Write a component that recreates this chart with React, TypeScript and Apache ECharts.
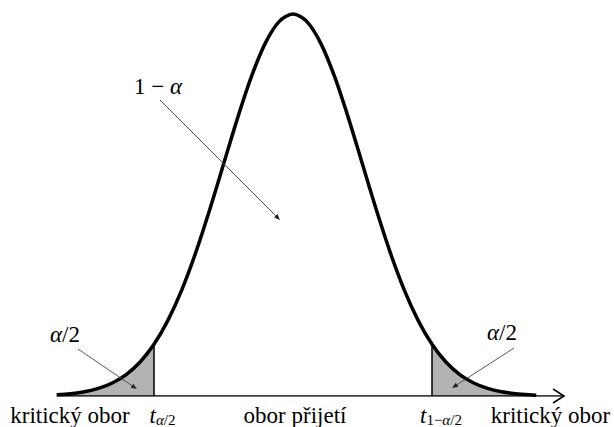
import React, { useEffect, useRef } from "react";
import * as echarts from "echarts";

// Density curve (x in units of the curve's spread, y = height)
const curveX = [
  -3.4, -3.2, -3.0, -2.8, -2.6, -2.4, -2.2, -2.0, -1.8, -1.6, -1.4, -1.2, -1.0, -0.8, -0.6, -0.4, -0.2,
  0.0, 0.2, 0.4, 0.6, 0.8, 1.0, 1.2, 1.4, 1.6, 1.8, 2.0, 2.2, 2.4, 2.6, 2.8, 3.0, 3.2, 3.4, 3.5,
];
const curveY = [
  0.0012, 0.0024, 0.0044, 0.0079, 0.0136, 0.0224, 0.0355, 0.054, 0.079, 0.1109, 0.1497, 0.1942, 0.242,
  0.2897, 0.3332, 0.3683, 0.391, 0.3989, 0.391, 0.3683, 0.3332, 0.2897, 0.242, 0.1942, 0.1497, 0.1109,
  0.079, 0.054, 0.0355, 0.0224, 0.0136, 0.0079, 0.0044, 0.0024, 0.0012, 0.0009,
];
// critical values
const tLow = -2.0;
const tHigh = 2.0;
// axis line extent
const axisStart = -3.4;
const axisEnd = 3.9;

// annotation arrows [x1, y1, x2, y2]
const arrows = [
  [-1.914, 0.3091, -0.187, 0.1838],
  [-3.094, 0.0491, -2.245, 0.0073],
  [3.18, 0.0501, 2.288, 0.0084],
];
// annotation labels: pieces [text, kind]; kind n = roman, i = italic, s = subscript, si = italic subscript
const labelParts: [string, string][][] = [
  [["1 − ", "n"], ["α", "i"]],
  [["α", "i"], ["/2", "n"]],
  [["α", "i"], ["/2", "n"]],
  [["kritický obor", "n"]],
  [["t", "i"], ["α", "si"], ["/2", "s"]],
  [["obor přijetí", "n"]],
  [["t", "i"], ["1−", "s"], ["α", "si"], ["/2", "s"]],
  [["kritický obor", "n"]],
];
const labelX = [-1.942, -3.281, 3.007, -3.209, -1.878, 0.029, 2.129, 3.705];
const labelY = [0.3231, 0.0641, 0.0662, -0.0201, -0.0201, -0.0201, -0.0201, -0.0201];

const FAMILY = "Liberation Serif";
const MAIN_SIZE = 23;
const SUB_SIZE = 15;
const SUB_DY = 5;

function buildOption(): any {
  const pts = curveX.map((x, i) => [x, curveY[i]]);
  const leftTail = pts.filter((p) => p[0] <= tLow);
  const rightTail = pts.filter((p) => p[0] >= tHigh);
  const yAt = (x: number) => curveY[curveX.indexOf(x)];
  return {
    animation: false,
    backgroundColor: "#fff",
    grid: { left: 15, right: 43, top: 13, bottom: 31 },
    xAxis: { type: "value", min: -4, max: 4, show: false },
    yAxis: { type: "value", min: 0, max: 0.4, show: false },
    series: [
      {
        type: "line",
        data: leftTail,
        smooth: 0.3,
        symbol: "none",
        lineStyle: { opacity: 0 },
        areaStyle: { color: "#b3b3b3", opacity: 1 },
        z: 1,
      },
      {
        type: "line",
        data: rightTail,
        smooth: 0.3,
        symbol: "none",
        lineStyle: { opacity: 0 },
        areaStyle: { color: "#b3b3b3", opacity: 1 },
        z: 1,
      },
      {
        type: "line",
        data: [
          [axisStart, 0],
          [axisEnd, 0],
        ],
        symbol: "none",
        lineStyle: { color: "#000", width: 1.5 },
        z: 2,
      },
      {
        type: "line",
        data: [
          [tLow, 0],
          [tLow, yAt(tLow)],
        ],
        symbol: "none",
        lineStyle: { color: "#000", width: 1.5 },
        z: 2,
      },
      {
        type: "line",
        data: [
          [tHigh, 0],
          [tHigh, yAt(tHigh)],
        ],
        symbol: "none",
        lineStyle: { color: "#000", width: 1.5 },
        z: 2,
      },
      {
        type: "line",
        data: pts,
        smooth: 0.3,
        symbol: "none",
        lineStyle: { color: "#000", width: 3.5, cap: "butt" },
        z: 3,
      },
      {
        // axis arrow head
        type: "custom",
        coordinateSystem: "cartesian2d",
        data: [[axisEnd, 0]],
        z: 4,
        renderItem: (params: any, api: any) => {
          const p = api.coord([api.value(0), api.value(1)]);
          return {
            type: "polyline",
            shape: {
              points: [
                [p[0] - 11, p[1] - 7],
                [p[0], p[1]],
                [p[0] - 11, p[1] + 7],
              ],
            },
            style: { stroke: "#000", lineWidth: 1.5, fill: "none" },
          };
        },
      },
      {
        // annotation arrows
        type: "custom",
        coordinateSystem: "cartesian2d",
        data: arrows,
        z: 5,
        renderItem: (params: any, api: any) => {
          const a = api.coord([api.value(0), api.value(1)]);
          const b = api.coord([api.value(2), api.value(3)]);
          const dx = b[0] - a[0];
          const dy = b[1] - a[1];
          const len = Math.sqrt(dx * dx + dy * dy);
          const ux = dx / len;
          const uy = dy / len;
          const hl = 6;
          const hw = 2.4;
          const bx = b[0] - ux * hl;
          const by = b[1] - uy * hl;
          return {
            type: "group",
            children: [
              {
                type: "line",
                shape: { x1: a[0], y1: a[1], x2: bx, y2: by },
                style: { stroke: "#444", lineWidth: 0.9 },
              },
              {
                type: "polygon",
                shape: {
                  points: [
                    [b[0], b[1]],
                    [bx - uy * hw, by + ux * hw],
                    [bx + uy * hw, by - ux * hw],
                  ],
                },
                style: { fill: "#222", stroke: "none" },
              },
            ],
          };
        },
      },
    ],
  };
}

export default function App() {
  const ref = useRef<HTMLDivElement>(null);
  useEffect(() => {
    document.body.style.margin = "0";
    const el = ref.current!;

    // a first pass to read label positions through the chart's own scales
    const probe = echarts.init(el, null, { renderer: "svg" });
    probe.setOption(buildOption());
    const anchors = labelX.map((x, i) => probe.convertToPixel({ gridIndex: 0 }, [x, labelY[i]]) as number[]);
    probe.dispose();

    // measure pieces to lay out labels with sub-scripts
    const canvas = document.createElement("canvas");
    const ctx = canvas.getContext("2d")!;
    const styleOf = (kind: string) => {
      const sub = kind === "s" || kind === "si";
      const italic = kind === "i" || kind === "si";
      return { size: sub ? SUB_SIZE : MAIN_SIZE, italic, dy: sub ? SUB_DY : 0 };
    };
    const graphics: any[] = [];
    labelParts.forEach((parts, li) => {
      const p = anchors[li];
      const widths = parts.map(([txt, kind]) => {
        const s = styleOf(kind);
        ctx.font = (s.italic ? "italic " : "") + s.size + "px " + FAMILY;
        return ctx.measureText(txt).width;
      });
      const total = widths.reduce((a, b) => a + b, 0);
      let cx = p[0] - total / 2;
      parts.forEach(([txt, kind], k) => {
        const s = styleOf(kind);
        const st: any = {
          text: txt,
          fontFamily: FAMILY,
          fontSize: s.size,
          fill: "#000",
        };
        if (s.italic) st.fontStyle = "italic";
        graphics.push({
          type: "text",
          x: cx,
          y: p[1] + s.dy - s.size / 2,
          style: st,
        });
        cx += widths[k];
      });
    });

    const chart = echarts.init(el, null, { renderer: "svg" });
    const option = buildOption();
    option.graphic = graphics;
    chart.setOption(option);
    return () => {
      chart.dispose();
    };
  }, []);
  return <div ref={ref} style={{ width: 614, height: 427 }} />;
}
